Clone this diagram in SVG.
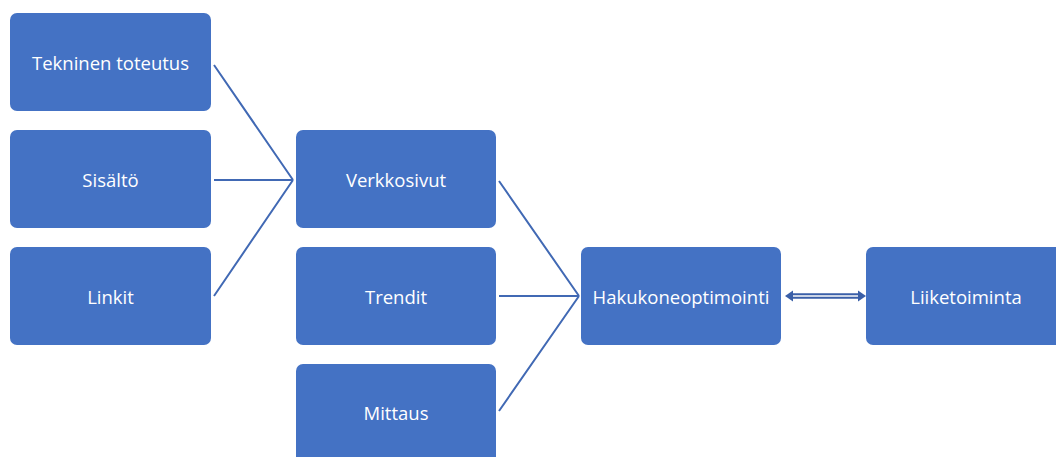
<svg xmlns="http://www.w3.org/2000/svg" width="1056" height="457" viewBox="0 0 1056 457">
<style>
.n{fill:#4472C4}
.t{fill:#fff;font-family:"Open Sans","Liberation Sans",sans-serif;font-size:18.5px;text-anchor:middle;dominant-baseline:central}
.c{stroke:#4169B4;stroke-width:2;fill:none}
</style>
<rect width="1056" height="457" fill="#fff"/>
<g id="connectors">
<path class="c" d="M214 65 L293 180 M214 180 L293 180 M214 296 L293 180"/>
<path class="c" d="M499 181 L579 296 M499 296 L579 296 M499 411 L579 296"/>
<g id="double-arrow">
<path d="M792 296 L859 296" stroke="#3A5FA8" stroke-width="5.5"/>
<path d="M792 296 L859 296" stroke="#C9D3E6" stroke-width="1.8"/>
<path d="M785 296 L793 290.5 L793 301.5 Z" fill="#3A5FA8"/>
<path d="M866 296 L858 290.5 L858 301.5 Z" fill="#3A5FA8"/>
</g>
</g>
<g id="tekninen"><rect class="n" x="10" y="13" width="201" height="98" rx="7"/><text class="t" x="110.5" y="62">Tekninen toteutus</text></g>
<g id="sisalto"><rect class="n" x="10" y="130" width="201" height="98" rx="7"/><text class="t" x="110.5" y="179">Sisältö</text></g>
<g id="linkit"><rect class="n" x="10" y="247" width="201" height="98" rx="7"/><text class="t" x="110.5" y="296">Linkit</text></g>
<g id="verkkosivut"><rect class="n" x="296" y="130" width="200" height="98" rx="7"/><text class="t" x="396" y="179">Verkkosivut</text></g>
<g id="trendit"><rect class="n" x="296" y="247" width="200" height="98" rx="7"/><text class="t" x="396" y="296">Trendit</text></g>
<g id="mittaus"><rect class="n" x="296" y="364" width="200" height="110" rx="7"/><text class="t" x="396" y="412">Mittaus</text></g>
<g id="hakukone"><rect class="n" x="581" y="247" width="200" height="98" rx="7"/><text class="t" x="681" y="296">Hakukoneoptimointi</text></g>
<g id="liiketoiminta"><rect class="n" x="866" y="247" width="200" height="98" rx="7"/><text class="t" x="966" y="296">Liiketoiminta</text></g>
</svg>
